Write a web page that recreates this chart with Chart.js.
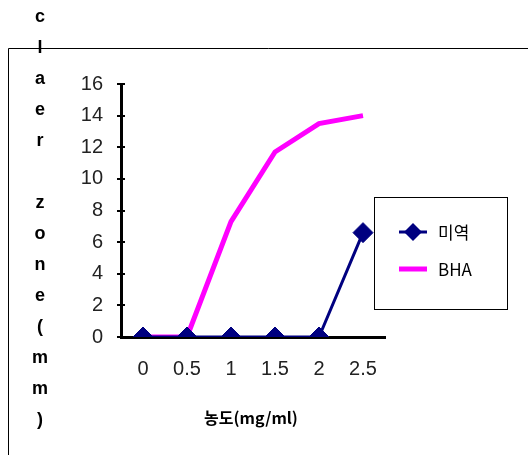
<!DOCTYPE html>
<html>
<head>
<meta charset="utf-8">
<script src="https://cdn.jsdelivr.net/npm/chart.js@4"></script>
<style>
  html, body { margin: 0; padding: 0; background: #fff; }
  #wrap { position: relative; width: 528px; height: 455px; }
</style>
</head>
<body>
<div id="wrap"><canvas id="chart" width="528" height="455"></canvas></div>
<script>
// 데이터
const doses = ['0', '0.5', '1', '1.5', '2', '2.5'];
const miyeok = [0, 0, 0, 0, 0, 6.6];
const bha = [0, 0, 7.3, 11.7, 13.5, 14.0];
const yTicks = [0, 2, 4, 6, 8, 10, 12, 14, 16];
const yTitle = 'claer zone(mm)';
const xTitle = '농도(mg/ml)';

const labelFont = 'Liberation Sans, Arial, sans-serif';
const koFont = '"Noto Sans CJK KR", "Liberation Sans", sans-serif';

// 바깥 테두리, 세로 제목, 범례, 눈금 안쪽
const decor = {
  id: 'decor',
  afterDraw(chart) {
    const c = chart.ctx;
    const ys = chart.scales.y;
    c.save();
    // frame
    c.strokeStyle = '#000';
    c.lineWidth = 1;
    c.beginPath();
    c.moveTo(528, 48.5);
    c.lineTo(8.5, 48.5);
    c.lineTo(8.5, 455);
    c.stroke();

    // inner half of the y ticks
    c.lineWidth = 2;
    yTicks.forEach(v => {
      const py = Math.round(ys.getPixelForValue(v));
      c.beginPath();
      c.moveTo(chart.chartArea.left, py);
      c.lineTo(chart.chartArea.left + 4, py);
      c.stroke();
    });

    // stacked y title
    c.fillStyle = '#000';
    c.font = 'bold 18px ' + labelFont;
    c.textAlign = 'center';
    c.textBaseline = 'middle';
    let y = 17;
    for (const ch of yTitle) {
      if (ch !== ' ') c.fillText(ch, 40, y);
      y += 31;
    }

    // x title
    c.font = 'bold 16px ' + koFont;
    c.fillText(xTitle, 251, 418);

    // legend
    c.lineWidth = 1;
    c.strokeRect(374.5, 197.5, 133, 112);
    const items = chart.data.datasets;
    items.forEach((ds, i) => {
      const ly = 232 + i * 37;
      c.strokeStyle = ds.borderColor;
      c.lineWidth = ds.borderWidth;
      c.beginPath();
      c.moveTo(399, ly);
      c.lineTo(427, ly);
      c.stroke();
      if (ds.pointRadius > 0) {
        c.fillStyle = ds.pointBackgroundColor;
        c.beginPath();
        c.moveTo(413, ly - 9);
        c.lineTo(422, ly);
        c.lineTo(413, ly + 9);
        c.lineTo(404, ly);
        c.closePath();
        c.fill();
      }
      c.fillStyle = '#000';
      c.textAlign = 'left';
      c.font = '17px ' + koFont;
      c.fillText(ds.label, 438, ly + 1);
    });
    c.restore();
  }
};

new Chart(document.getElementById('chart'), {
  type: 'line',
  data: {
    labels: doses,
    datasets: [
      {
        label: '미역',
        data: miyeok,
        borderColor: '#000080',
        backgroundColor: '#000080',
        pointBackgroundColor: '#000080',
        pointBorderColor: '#000080',
        borderWidth: 3,
        pointStyle: 'rectRot',
        pointRadius: 10,
        pointBorderWidth: 1,
        tension: 0,
        order: 0
      },
      {
        label: 'BHA',
        data: bha,
        borderColor: '#ff00ff',
        backgroundColor: '#ff00ff',
        borderWidth: 5,
        pointRadius: 0,
        tension: 0,
        order: 1
      }
    ]
  },
  options: {
    responsive: false,
    animation: false,
    layout: { padding: { left: 0, right: 143, top: 84, bottom: 0 } },
    plugins: { legend: { display: false }, tooltip: { enabled: false } },
    scales: {
      x: {
        type: 'category',
        offset: true,
        border: { display: true, color: '#000', width: 3 },
        grid: { display: false },
        ticks: { color: '#222', font: { family: labelFont, size: 20 }, padding: 12, maxRotation: 0 },
        afterFit(s) { s.height = 118; }
      },
      y: {
        min: 0,
        max: 16,
        afterBuildTicks(s) { s.ticks = yTicks.map(v => ({ value: v })); },
        border: { display: true, color: '#000', width: 3 },
        grid: { drawOnChartArea: false, color: '#000', lineWidth: 2, tickLength: 4 },
        ticks: { color: '#222', font: { family: labelFont, size: 20 }, padding: 14 },
        afterFit(s) { s.width = 121; }
      }
    }
  },
  plugins: [decor]
});
</script>
</body>
</html>
